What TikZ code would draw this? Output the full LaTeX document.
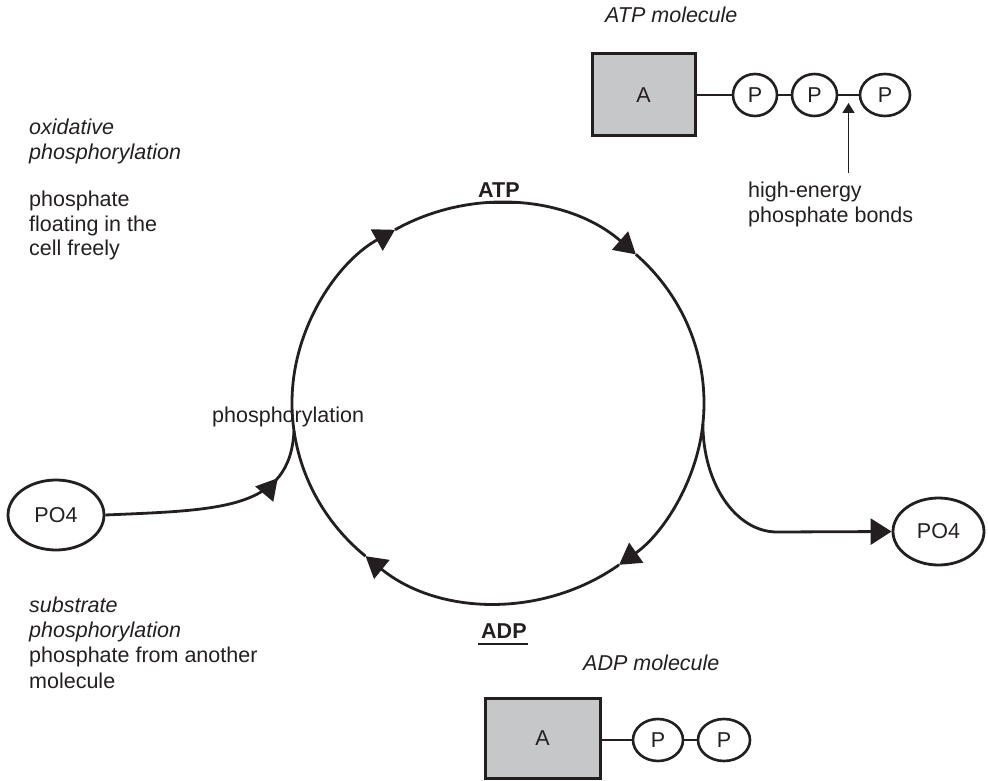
\documentclass[tikz,border=0pt]{standalone}
\usepackage{fontspec}
\setmainfont{Liberation Sans}
\usetikzlibrary{arrows.meta,calc,decorations.markings,shapes.geometric}
\definecolor{ink}{HTML}{231F20}
\definecolor{adenine}{HTML}{C6C7C9}

\begin{document}
\begin{tikzpicture}[x=1pt,y=1pt,
  lbl/.style={inner sep=0pt, anchor=base west, text=ink, font=\fontsize{21.5}{25}\selectfont},
  ilbl/.style={lbl, font=\fontsize{21.5}{25}\selectfont\itshape},
  blbl/.style={lbl, font=\fontsize{21.5}{25}\selectfont\bfseries},
  loop/.style={draw=ink, line width=2.8pt},
  bigtip/.style={-{Triangle[length=21pt,width=24pt]}},
  bond/.style={draw=ink, line width=2.6pt},
  phos/.style={ellipse, draw=ink, line width=2.6pt, inner sep=0pt, minimum height=42pt,
    text=ink, font=\fontsize{21.5}{25}\selectfont},
  ion/.style={ellipse, draw=ink, line width=2.8pt, inner sep=0pt,
    text=ink, font=\fontsize{21.5}{25}\selectfont},
  sugar/.style={rectangle, draw=ink, line width=3pt, fill=adenine, inner sep=0pt,
    text=ink, font=\fontsize{21.5}{25}\selectfont}
]
\useasboundingbox (0,0) rectangle (988,-781);

% ---- side texts ----
\node[ilbl] (ox1) at (29,-135) {oxidative};
\node[ilbl] (ox2) at (29,-160) {phosphorylation};
\node[lbl] (fr1) at (29,-206) {phosphate};
\node[lbl] (fr2) at (29,-231) {floating in the};
\node[lbl] (fr3) at (29,-255) {cell freely};

\node[ilbl] (sb1) at (29,-612) {substrate};
\node[ilbl] (sb2) at (29,-637) {phosphorylation};
\node[lbl] (sb3) at (29,-662) {phosphate from another};
\node[lbl] (sb4) at (29,-688) {molecule};

\node[lbl] (phosph) at (212,-422) {phosphorylation};

% ---- cycle labels ----
\node[blbl] (atplbl) at (478,-197) {ATP};
\draw[ink, line width=1.8pt] ([xshift=-2pt,yshift=-6pt]atplbl.base west) -- ([xshift=2pt,yshift=-6pt]atplbl.base east);
\node[blbl] (adplbl) at (481,-638) {ADP};
\draw[ink, line width=1.8pt] ([xshift=-3pt,yshift=-6pt]adplbl.base west) -- ([xshift=1pt,yshift=-6pt]adplbl.base east);

% ---- the cycle ----
\coordinate (c) at (498,-403);
\draw[loop, bigtip] ($(c)+(230:206pt and 200pt)$) arc[start angle=230, end angle=120, x radius=206pt, y radius=200pt];
\draw[loop, bigtip] ($(c)+(120:206pt and 200pt)$) arc[start angle=120, end angle=48, x radius=206pt, y radius=200pt];
\draw[loop, bigtip] ($(c)+(48:206pt and 200pt)$) arc[start angle=48, end angle=-54, x radius=206pt, y radius=200pt];
\draw[loop, bigtip] ($(c)+(-54:206pt and 200pt)$) arc[start angle=-54, end angle=-130, x radius=206pt, y radius=200pt];

\coordinate (cin) at ($(c)+(188:206pt and 200pt)$);
\coordinate (cout) at ($(c)+(-6:206pt and 200pt)$);

% ---- free phosphate in and out ----
\node[ion, minimum width=96pt, minimum height=70pt] (po4l) at (56,-515) {PO4};
\node[ion, minimum width=91pt, minimum height=67pt] (po4r) at (938.5,-531.5) {PO4};

\draw[loop, postaction={decorate}, decoration={markings,
    mark=at position 0.78 with {\arrow{Triangle[length=21pt,width=23pt]}}}]
  (po4l.east) .. controls (220,-510) and (290,-510) .. (cin);
\draw[loop, -{Triangle[length=21pt,width=26pt]}]
  (cout) .. controls (703,-484) and (736,-532) .. (777,-532) -- (po4r.west);

% ---- ATP molecule ----
\node[ilbl] (atpmol) at (605,-23) {ATP molecule};
\node[sugar, minimum width=103pt, minimum height=82pt] (atpA) at (643.5,-95) {A};
\node[phos, minimum width=44pt] (atpP1) at (755,-95) {P};
\node[phos, minimum width=45pt] (atpP2) at (814.5,-95) {P};
\node[phos, minimum width=50pt] (atpP3) at (885,-95) {P};
\draw[bond] (atpA.east) -- (atpP1.west);
\draw[bond] (atpP1.east) -- (atpP2.west);
\draw[bond] (atpP2.east) -- (atpP3.west);

\coordinate (bondmid) at ($(atpP2.east)!0.5!(atpP3.west)$);
\coordinate (hebase) at (bondmid |- 0,-173);
\draw[ink, line width=1.5pt, -{Triangle[length=10pt,width=12pt]}] (hebase) -- ([yshift=-8pt]bondmid);
\node[lbl] (he1) at (748,-197) {high-energy};
\node[lbl] (he2) at (748,-222) {phosphate bonds};

% ---- ADP molecule ----
\node[ilbl] (adpmol) at (583,-670) {ADP molecule};
\node[sugar, minimum width=115pt, minimum height=80pt] (adpA) at (542.5,-738) {A};
\node[phos, minimum width=50pt] (adpP1) at (658,-740) {P};
\node[phos, minimum width=52pt] (adpP2) at (724,-740) {P};
\draw[bond] (adpP1.west -| adpA.east) -- (adpP1.west);
\draw[bond] (adpP1.east) -- (adpP2.west);
\end{tikzpicture}
\end{document}
